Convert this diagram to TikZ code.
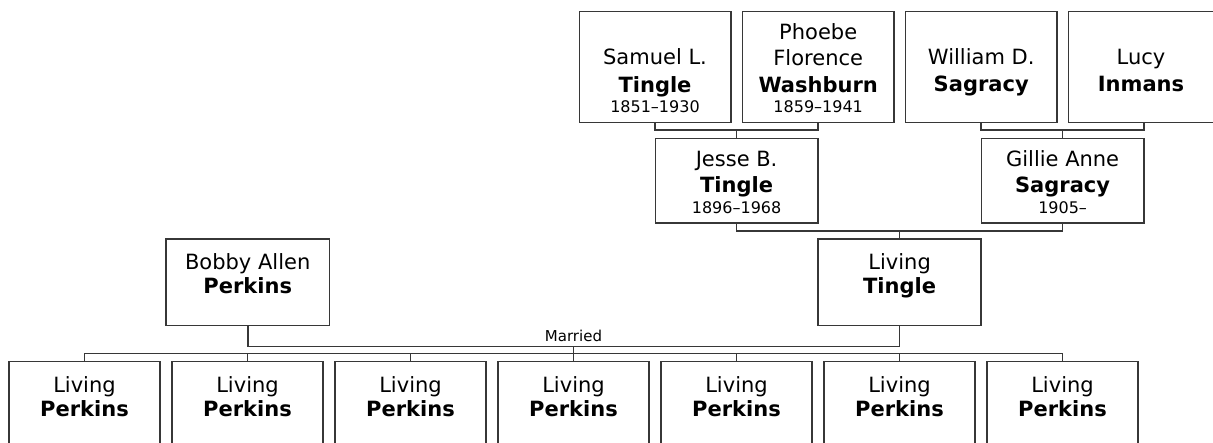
\documentclass[tikz,border=0pt]{standalone}
\usepackage{fontspec}
\setmainfont{DejaVu Sans}
\definecolor{lc}{RGB}{55,55,55}
\tikzset{
  box/.style={draw=lc, line width=1.6pt, inner sep=0pt, fill=white},
  topbox/.style={box, minimum width=151.4pt, minimum height=111.2pt},
  midbox/.style={box, minimum width=162.5pt, minimum height=84.7pt},
  parbox/.style={box, minimum width=163.3pt, minimum height=86.4pt},
  kidbox/.style={box, minimum width=151.2pt, minimum height=110pt},
  conn/.style={draw=lc, line width=1.6pt},
  nm/.style={anchor=base, inner sep=0pt, font=\fontsize{21}{25}\selectfont},
  sn/.style={anchor=base, inner sep=0pt, font=\fontsize{21}{25}\selectfont\bfseries},
  dt/.style={anchor=base, inner sep=0pt, font=\fontsize{16}{19}\selectfont},
  lbl/.style={anchor=base, inner sep=0pt, font=\fontsize{15}{18}\selectfont}
}
\begin{document}
\begin{tikzpicture}[x=1pt,y=-1pt]
\useasboundingbox (0,0) rectangle (1213,443);
\clip (0,0) rectangle (1213,443);
% generation 1
\node[topbox] (sam) at (655,67.1) {};
\node[topbox] (pho) at (818.2,67.1) {};
\node[topbox] (wil) at (981.2,67.1) {};
\node[topbox] (luc) at (1144,67.1) {};
\node[nm] (samA) at (655,65) {Samuel L.};
\node[sn] (samB) at (655,92.5) {Tingle};
\node[dt] (samC) at (655,112.7) {1851–1930};
\node[nm] (phoA) at (818.2,40) {Phoebe};
\node[nm] (phoB) at (818.2,66) {Florence};
\node[sn] (phoC) at (818.2,92.5) {Washburn};
\node[dt] (phoD) at (818.2,112.7) {1859–1941};
\node[nm] (wilA) at (981.2,65) {William D.};
\node[sn] (wilB) at (981.2,91.5) {Sagracy};
\node[nm] (lucA) at (1141,65) {Lucy};
\node[sn] (lucB) at (1141,91.5) {Inmans};
% generation 2
\node[midbox] (jes) at (736.6,180.7) {};
\node[midbox] (gil) at (1062.6,180.7) {};
\node[nm] (jesA) at (736.6,166.7) {Jesse B.};
\node[sn] (jesB) at (736.6,193) {Tingle};
\node[dt] (jesC) at (736.6,213.3) {1896–1968};
\node[nm] (gilA) at (1062.6,166.7) {Gillie Anne};
\node[sn] (gilB) at (1062.6,193) {Sagracy};
\node[dt] (gilC) at (1062.6,213.3) {1905–};
% generation 3
\node[parbox] (bob) at (247.7,282.5) {};
\node[parbox] (tin) at (899.6,282.5) {};
\node[nm] (bobA) at (247.7,269.3) {Bobby Allen};
\node[sn] (bobB) at (247.7,294) {Perkins};
\node[nm] (tinA) at (899.6,269.3) {Living};
\node[sn] (tinB) at (899.6,294) {Tingle};
% children
\foreach \i in {1,...,7} {
  \node[kidbox] (c\i) at ({84.5+163*(\i-1)},416.6) {};
  \node[nm] (c\i a) at ({84.5+163*(\i-1)},392.3) {Living};
  \node[sn] (c\i b) at ({84.5+163*(\i-1)},416.7) {Perkins};
}
% connectors
\coordinate (m1) at (736.6,130.2);
\coordinate (m2) at (1062.6,130.2);
\coordinate (m3) at (899.6,231.2);
\coordinate (m4) at (573.5,346.7);
\coordinate (cb) at (573.5,353.6);
\draw[conn] (sam.south) |- (m1) -| (pho.south);
\draw[conn] (m1) -- (jes.north);
\draw[conn] (wil.south) |- (m2) -| (luc.south);
\draw[conn] (m2) -- (gil.north);
\draw[conn] (jes.south) |- (m3) -| (gil.south);
\draw[conn] (m3) -- (tin.north);
\draw[conn] (bob.south) |- (m4) -| (tin.south);
\draw[conn] (m4) -- (c4.north);
\draw[conn] (c1.north) |- (cb) -| (c7.north);
\foreach \i in {2,3,5,6} { \draw[conn] (c\i.north) -- (c\i.north |- cb); }
\node[lbl] (mar) at (573.5,341.5) {Married};
\end{tikzpicture}
\end{document}
